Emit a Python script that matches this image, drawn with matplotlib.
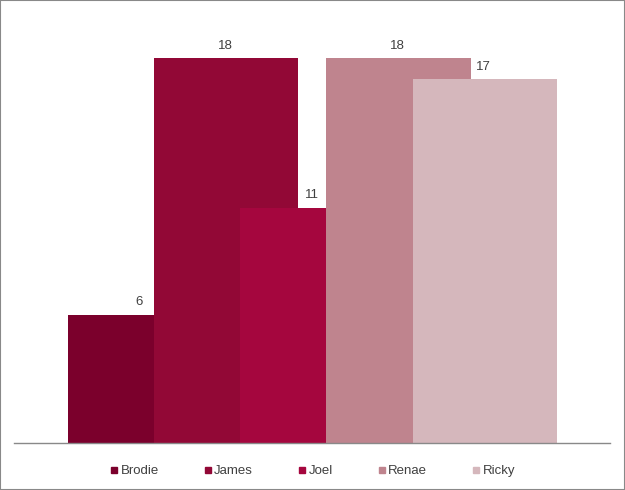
import numpy as np
import matplotlib.pyplot as plt
from matplotlib.lines import Line2D

plt.rcParams['font.family'] = ['Liberation Sans', 'DejaVu Sans']

names = ['Brodie', 'James', 'Joel', 'Renae', 'Ricky']
values = [6, 18, 11, 18, 17]
colors = ['#7B002C', '#920836', '#A5063E', '#BF848E', '#D5B7BC']

fig = plt.figure(figsize=(6.25, 4.9), dpi=100)
ax = fig.add_axes([14 / 625, 47 / 490, 596 / 625, 423 / 490])

x = np.arange(len(names))
# bars are wider than their spacing; later ones cover earlier ones
for i in range(len(names)):
    ax.bar(x[i] + 0.01, values[i], width=1.674, color=colors[i], linewidth=0)
    ax.text(x[i], values[i] + 0.3, str(values[i]), ha='center', va='bottom',
            fontsize=9.5, color='#404040')

ax.set_xlim(-1.453, 5.465)
ax.set_ylim(0, 19.78)
for s in ['top', 'right', 'left']:
    ax.spines[s].set_visible(False)
ax.spines['bottom'].set_color('#898989')
ax.spines['bottom'].set_linewidth(1)
ax.set_xticks([])
ax.set_yticks([])

handles = [Line2D([], [], marker='s', linestyle='none', markersize=5,
                  color=c) for c in colors]
fig.legend(handles, names, loc='center', bbox_to_anchor=(0.5, 19 / 490),
           ncol=5, frameon=False, fontsize=9.5, handlelength=0.6,
           handletextpad=0.2, columnspacing=3.4, labelcolor='#404040')

fig.patches.append(plt.Rectangle((0, 0), 1, 1, transform=fig.transFigure,
                                 fill=False, edgecolor='#898989', linewidth=1.5))

fig.savefig('out.png', dpi=100)
